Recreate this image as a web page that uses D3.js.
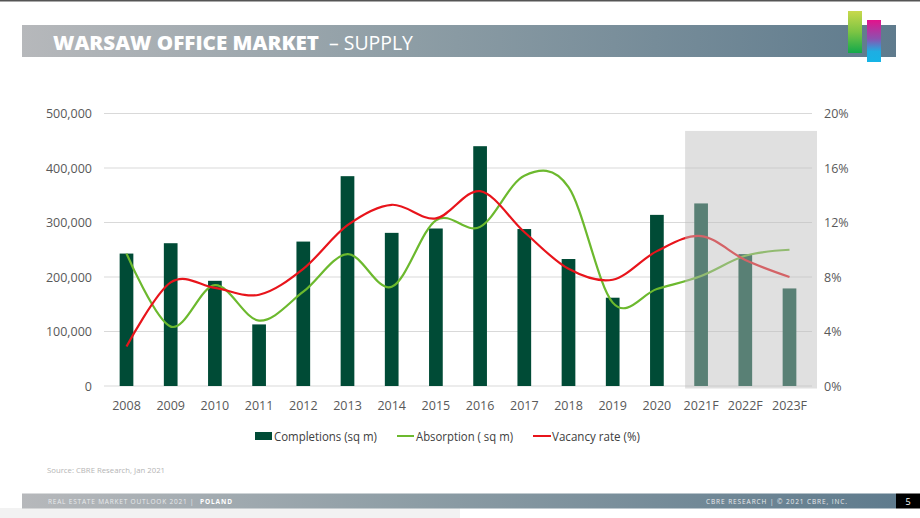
<!DOCTYPE html>
<html><head><meta charset="utf-8">
<script src="https://cdn.jsdelivr.net/npm/d3@7"></script>
<style>
html,body{margin:0;padding:0;background:#fff;}
svg{display:block;font-family:"Open Sans",sans-serif;}
</style></head>
<body>
<svg id="c" width="920" height="518"></svg>
<script>
const categories = ["2008","2009","2010","2011","2012","2013","2014","2015","2016","2017","2018","2019","2020","2021F","2022F","2023F"];
const completions = [243000,262000,193000,113000,265000,385000,281000,289000,440000,288000,233000,162000,314000,335000,242000,179000];
const absorption = [243000,109000,185000,120000,173000,242000,182000,304000,292000,386000,365000,153000,178000,202000,239000,250000];
const vacancy = [0.029,0.076,0.072,0.067,0.086,0.118,0.133,0.123,0.143,0.113,0.086,0.078,0.099,0.110,0.0925,0.080];
const leftTicks = [0,100000,200000,300000,400000,500000];
const rightTicks = [0,0.04,0.08,0.12,0.16,0.20];
const forecastStart = "2021F";

const svg = d3.select("#c");
const defs = svg.append("defs");

// frame elements
svg.append("rect").attr("x",0).attr("y",0).attr("width",920).attr("height",1.5).attr("fill","#555");
svg.append("rect").attr("x",0).attr("y",508).attr("width",460).attr("height",10).attr("fill","#f2f2f2");

const gBar = defs.append("linearGradient").attr("id","gbar").attr("x1","0").attr("x2","1");
gBar.append("stop").attr("offset","0").attr("stop-color","#b6b8bb");
gBar.append("stop").attr("offset","0.45").attr("stop-color","#8d9da5");
gBar.append("stop").attr("offset","1").attr("stop-color","#5f7b8d");

svg.append("rect").attr("x",22).attr("y",25).attr("width",874).attr("height",32).attr("fill","url(#gbar)");
const title = svg.append("text").attr("x",53).attr("y",49.5).attr("fill","#fff").attr("font-size",20);
title.append("tspan").attr("font-weight","800").text("WARSAW OFFICE MARKET").attr("textLength",266).attr("lengthAdjust","spacingAndGlyphs");
title.append("tspan").attr("x",329).attr("font-weight","400").text("– SUPPLY").attr("textLength",84).attr("lengthAdjust","spacingAndGlyphs");

// logo
const lg1 = defs.append("linearGradient").attr("id","lg1").attr("x1","0").attr("x2","0").attr("y1","0").attr("y2","1");
lg1.append("stop").attr("offset","0").attr("stop-color","#c8d94c");
lg1.append("stop").attr("offset","0.5").attr("stop-color","#7cc443");
lg1.append("stop").attr("offset","1").attr("stop-color","#12a94b");
const lg2 = defs.append("linearGradient").attr("id","lg2").attr("x1","0").attr("x2","0").attr("y1","0").attr("y2","1");
lg2.append("stop").attr("offset","0").attr("stop-color","#e3128c");
lg2.append("stop").attr("offset","0.45").attr("stop-color","#8b52b0");
lg2.append("stop").attr("offset","0.75").attr("stop-color","#1eaee2");
lg2.append("stop").attr("offset","1").attr("stop-color","#15b4e6");
svg.append("rect").attr("x",848).attr("y",11).attr("width",14).attr("height",42).attr("fill","url(#lg1)");
svg.append("rect").attr("x",867).attr("y",20).attr("width",14).attr("height",42).attr("fill","url(#lg2)");

// footer
svg.append("rect").attr("x",22).attr("y",493.5).attr("width",874).attr("height",15).attr("fill","url(#gbar)");
svg.append("rect").attr("x",896).attr("y",493.5).attr("width",24).attr("height",15).attr("fill","#000");
svg.append("text").attr("x",908).attr("y",504.5).attr("fill","#fff").attr("font-size",9).attr("text-anchor","middle").text("5");
const ft = svg.append("text").attr("x",48).attr("y",503.5).attr("font-size",6.5).attr("fill","#e8eaec");
ft.append("tspan").text("REAL ESTATE MARKET OUTLOOK 2021  |  ").attr("textLength",148).attr("lengthAdjust","spacing");
ft.append("tspan").attr("font-weight","700").attr("fill","#fff").text("POLAND").attr("x",200).attr("textLength",32).attr("lengthAdjust","spacing");
svg.append("text").attr("x",706).attr("y",503.5).attr("font-size",6.5).attr("fill","#e8eaec")
  .text("CBRE RESEARCH  |  © 2021 CBRE, INC.").attr("textLength",141).attr("lengthAdjust","spacing");
svg.append("text").attr("x",47).attr("y",473).attr("font-size",8).attr("fill","#b5b5b5").text("Source: CBRE Research, Jan 2021")
  .attr("textLength",118).attr("lengthAdjust","spacingAndGlyphs");

// chart
const x = d3.scaleBand().domain(categories).range([104.4,811.6]).paddingInner(0.69).paddingOuter(0.345);
const yL = d3.scaleLinear().domain([0,500000]).range([386,113.5]);
const yR = d3.scaleLinear().domain([0,0.2]).range([386,113.5]);
const cx = d => x(d) + x.bandwidth()/2;

const grid = svg.append("g");
grid.selectAll("line").data(leftTicks).join("line")
  .attr("x1",104).attr("x2",812).attr("y1",d=>yL(d)).attr("y2",d=>yL(d))
  .attr("stroke","#d9d9d9").attr("stroke-width",1);

const axL = d3.axisLeft(yL).tickValues(leftTicks).tickFormat(d3.format(",")).tickSize(0).tickPadding(12);
const gL = svg.append("g").attr("transform","translate(104,0)").call(axL);
gL.select(".domain").remove();
gL.selectAll("text").attr("font-size",12.5).attr("fill","#595959").attr("font-family","Open Sans");

const axR = d3.axisRight(yR).tickValues(rightTicks).tickFormat(d3.format(".0%")).tickSize(0).tickPadding(12);
const gR = svg.append("g").attr("transform","translate(812,0)").call(axR);
gR.select(".domain").remove();
gR.selectAll("text").attr("font-size",12.5).attr("fill","#595959").attr("font-family","Open Sans");

const axB = d3.axisBottom(x).tickSize(0).tickPadding(15);
const gB = svg.append("g").attr("transform","translate(0,386)").call(axB);
gB.select(".domain").remove();
gB.selectAll("text").attr("font-size",12.5).attr("fill","#595959").attr("font-family","Open Sans");

svg.append("g").selectAll("rect").data(categories).join("rect")
  .attr("x",d=>x(d)).attr("width",x.bandwidth())
  .attr("y",(d,i)=>yL(completions[i])).attr("height",(d,i)=>yL(0)-yL(completions[i]))
  .attr("fill","#004b36");

const curve = d3.curveCardinal.tension(0);
const lineA = d3.line().x((d,i)=>cx(categories[i])).y(d=>yL(d)).curve(curve);
const lineV = d3.line().x((d,i)=>cx(categories[i])).y(d=>yR(d)).curve(curve);
svg.append("path").attr("d",lineA(absorption)).attr("fill","none").attr("stroke","#6cb92e").attr("stroke-width",2.2);
svg.append("path").attr("d",lineV(vacancy)).attr("fill","none").attr("stroke","#e8141b").attr("stroke-width",2.2);

// forecast overlay
const fx0 = x(forecastStart) + x.bandwidth()/2 - 16;
svg.append("rect").attr("x",fx0).attr("y",yL(468000)).attr("width",817-fx0).attr("height",yL(0)-yL(468000)+2.5)
  .attr("fill","rgb(190,190,190)").attr("fill-opacity",0.47);

// legend
const leg = svg.append("g").attr("font-size",12.5).attr("fill","#404040");
leg.append("rect").attr("x",255).attr("y",432).attr("width",17).attr("height",8).attr("fill","#004b36");
leg.append("text").attr("x",274).attr("y",440.5).text("Completions (sq m)").attr("textLength",103).attr("lengthAdjust","spacingAndGlyphs");
leg.append("line").attr("x1",397).attr("x2",414).attr("y1",436).attr("y2",436).attr("stroke","#6cb92e").attr("stroke-width",2);
leg.append("text").attr("x",416).attr("y",440.5).text("Absorption ( sq m)").attr("textLength",97).attr("lengthAdjust","spacingAndGlyphs");
leg.append("line").attr("x1",533).attr("x2",551).attr("y1",436).attr("y2",436).attr("stroke","#e8141b").attr("stroke-width",2);
leg.append("text").attr("x",552).attr("y",440.5).text("Vacancy rate (%)").attr("textLength",88).attr("lengthAdjust","spacingAndGlyphs");
</script>
</body></html>
